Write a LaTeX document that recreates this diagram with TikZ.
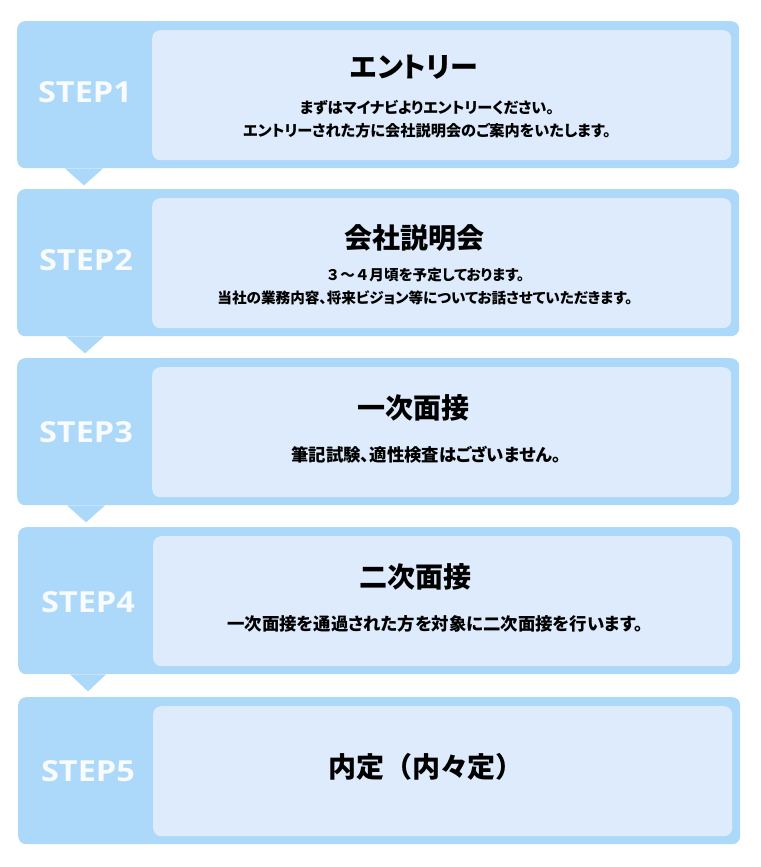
\documentclass[tikz,border=0pt]{standalone}
\usepackage{fontspec}
\usetikzlibrary{calc}
\newfontfamily\jp[RawFeature=+palt]{Noto Sans CJK JP}
\newfontfamily\jpf{Noto Sans CJK JP}
\newfontfamily\stepfont{Open Sans}
\definecolor{outercol}{RGB}{172,216,250}
\definecolor{innercol}{RGB}{221,235,252}
\definecolor{stepcol}{RGB}{248,251,255}
\newcommand{\steptxt}[1]{\scalebox{1.12}[1]{#1}}
\tikzset{
  outerbox/.style={fill=outercol, rounded corners=8pt, minimum width=722pt, minimum height=147pt, anchor=north west, inner sep=0pt},
  innerbox/.style={fill=innercol, rounded corners=8pt, minimum width=579pt, minimum height=130pt, anchor=north west, inner sep=0pt},
  steplabel/.style={text=stepcol, font=\stepfont\bfseries\fontsize{29}{29}\selectfont, inner sep=0pt},
  titletext/.style={text=black, font=\jp\bfseries\fontsize{28}{28}\selectfont, inner sep=0pt},
  subtext/.style={text=black, font=\jp\bfseries\fontsize{15.2}{23}\selectfont, align=center, inner sep=0pt},
  subtextb/.style={text=black, font=\jp\bfseries\fontsize{14.6}{23}\selectfont, align=center, inner sep=0pt},
  subtextc/.style={text=black, font=\jp\bfseries\fontsize{17.4}{23}\selectfont, align=center, inner sep=0pt},
  pointer/.style={fill=outercol}
}
\begin{document}
\begin{tikzpicture}[x=1pt,y=-1pt]
\useasboundingbox (0,0) rectangle (760,867);
% step 1
\node[outerbox] (s1) at (17,21) {};
\node[innerbox] (i1) at (152,30) {};
\node[steplabel] (l1) at (85,92) {\steptxt{STEP1}};
\node[titletext] (t1) at (414,67) {エントリー};
\node[subtext] (d1) at (427,119) {まずはマイナビよりエントリーください。\\エントリーされた方に会社説明会のご案内をいたします。};
% step 2
\node[outerbox] (s2) at (17,189) {};
\node[innerbox] (i2) at (152,198) {};
\node[steplabel] (l2) at (86,260) {\steptxt{STEP2}};
\node[titletext] (t2) at (414,238) {会社説明会};
\node[subtextb] (d2) at (425,286) {{\jpf ３～４月}頃を予定しております。\\当社の業務内容、将来ビジョン等についてお話させていただきます。};
% step 3
\node[outerbox] (s3) at (17,358) {};
\node[innerbox] (i3) at (152,367) {};
\node[steplabel] (l3) at (86,432) {\steptxt{STEP3}};
\node[titletext] (t3) at (413,408) {一次面接};
\node[subtextc] (d3) at (426,455) {筆記試験、適性検査はございません。};
% step 4
\node[outerbox] (s4) at (18,527) {};
\node[innerbox] (i4) at (153,536) {};
\node[steplabel] (l4) at (88,602) {\steptxt{STEP4}};
\node[titletext] (t4) at (415,577) {二次面接};
\node[subtextc] (d4) at (435,624) {一次面接を通過された方を対象に二次面接を行います。};
% step 5
\node[outerbox] (s5) at (18,697) {};
\node[innerbox] (i5) at (153,706) {};
\node[steplabel] (l5) at (88,771) {\steptxt{STEP5}};
\node[titletext] (t5) at (426,767) {内定{\jpf（}内々定{\jpf ）}};
% pointers
\fill[pointer] ($(s1.south west)+(48,0)$) -- ($(s1.south west)+(86,0)$) -- ($(s1.south west)+(67,17)$) -- cycle;
\fill[pointer] ($(s2.south west)+(49,0)$) -- ($(s2.south west)+(87,0)$) -- ($(s2.south west)+(68,17)$) -- cycle;
\fill[pointer] ($(s3.south west)+(50,0)$) -- ($(s3.south west)+(88,0)$) -- ($(s3.south west)+(69,17)$) -- cycle;
\fill[pointer] ($(s4.south west)+(52,0)$) -- ($(s4.south west)+(88,0)$) -- ($(s4.south west)+(70,17)$) -- cycle;
\end{tikzpicture}
\end{document}
